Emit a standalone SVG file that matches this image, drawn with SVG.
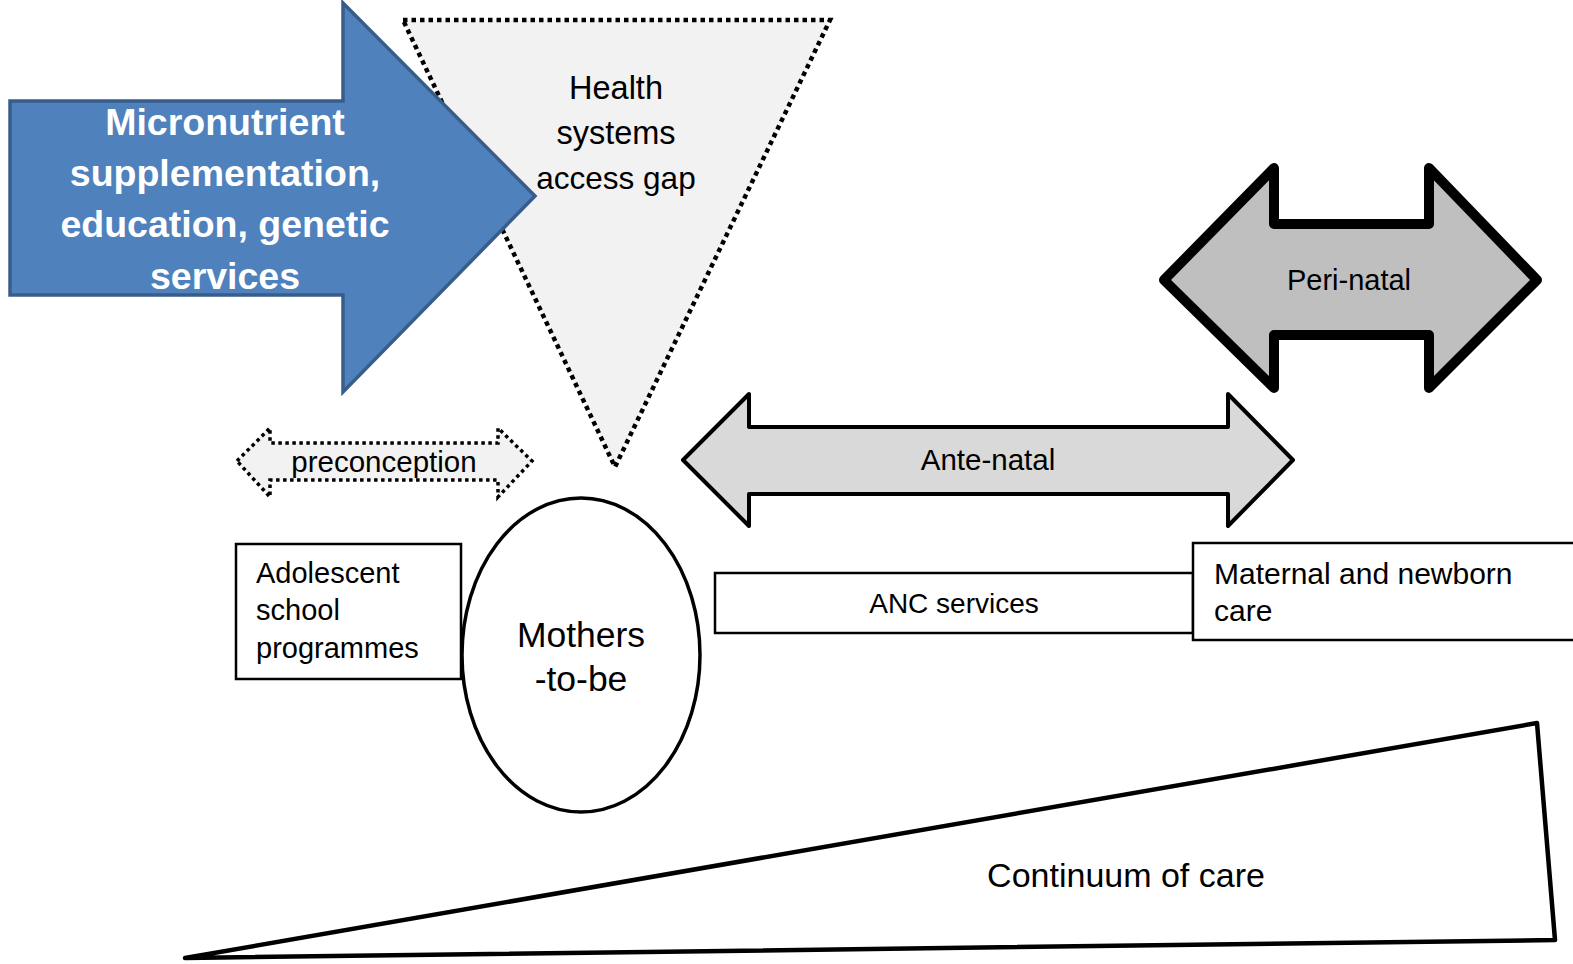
<svg xmlns="http://www.w3.org/2000/svg" width="1573" height="964" viewBox="0 0 1573 964">
<style>
.t{font-family:"Liberation Sans",Arial,sans-serif;fill:#000;}
.c{text-anchor:middle;}
.w{fill:#fff;font-weight:bold;font-size:37.5px;}
.box{fill:#fff;stroke:#000;stroke-width:2.5;}
</style>
<rect width="1573" height="964" fill="#fff"/>
<g id="gap">
<polygon points="403,20 830,20 615,467" fill="#F2F2F2" stroke="#000" stroke-width="4.5" stroke-dasharray="4.5 4"/>
<text class="t c" font-size="32.5" x="616" y="99">Health</text>
<text class="t c" font-size="32.5" x="616" y="144">systems</text>
<text class="t c" font-size="31.5" x="616" y="189">access gap</text>
</g>
<g id="micronutrient">
<polygon points="10,101 343,101 343,3 535,196 343,392 343,295 10,295" fill="#4F81BD" stroke="#385D8A" stroke-width="3.5" stroke-linejoin="miter"/>
<text class="t c w" x="225" y="135">Micronutrient</text>
<text class="t c w" x="225" y="186">supplementation,</text>
<text class="t c w" x="225" y="237">education, genetic</text>
<text class="t c w" x="225" y="289">services</text>
</g>
<g id="perinatal">
<polygon points="1164,280 1274,168 1274,224 1429,224 1429,168 1537,280 1429,388 1429,335 1274,335 1274,388" fill="#BFBFBF" stroke="#000" stroke-width="10" stroke-linejoin="round"/>
<text class="t c" font-size="29" x="1349" y="290">Peri-natal</text>
</g>
<g id="preconception">
<polygon points="237,461 270,428 270,443 498,443 498,428 532,461 498,497 498,480 270,480 270,497" fill="#F2F2F2" stroke="#000" stroke-width="3.5" stroke-dasharray="3.5 3.5"/>
<text class="t c" font-size="29.5" x="384" y="472">preconception</text>
</g>
<g id="antenatal">
<polygon points="683,460 749,394 749,427 1228,427 1228,394 1293,460 1228,526 1228,494 749,494 749,526" fill="#D9D9D9" stroke="#000" stroke-width="4" stroke-linejoin="round"/>
<text class="t c" font-size="29.5" x="988" y="470">Ante-natal</text>
</g>
<g id="adolescent">
<rect class="box" x="236" y="544" width="225" height="135"/>
<text class="t" font-size="29" x="256" y="583">Adolescent</text>
<text class="t" font-size="29" x="256" y="620">school</text>
<text class="t" font-size="29" x="256" y="658">programmes</text>
</g>
<g id="mothers">
<ellipse cx="581" cy="655" rx="119" ry="157" fill="#fff" stroke="#000" stroke-width="3.5"/>
<text class="t c" font-size="35.5" x="581" y="647">Mothers</text>
<text class="t c" font-size="35.5" x="581" y="691">-to-be</text>
</g>
<g id="anc">
<rect class="box" x="715" y="573" width="478" height="60"/>
<text class="t c" font-size="28" x="954" y="613">ANC services</text>
</g>
<g id="maternal">
<rect class="box" x="1193" y="543" width="400" height="97"/>
<text class="t" font-size="30" x="1214" y="584">Maternal and newborn</text>
<text class="t" font-size="30" x="1214" y="621">care</text>
</g>
<g id="continuum">
<polygon points="185,958 1537,723 1555,940" fill="#fff" stroke="#000" stroke-width="4.5" stroke-linejoin="round"/>
<text class="t c" font-size="34" x="1126" y="887">Continuum of care</text>
</g>
<g id="connectors"></g>
</svg>
